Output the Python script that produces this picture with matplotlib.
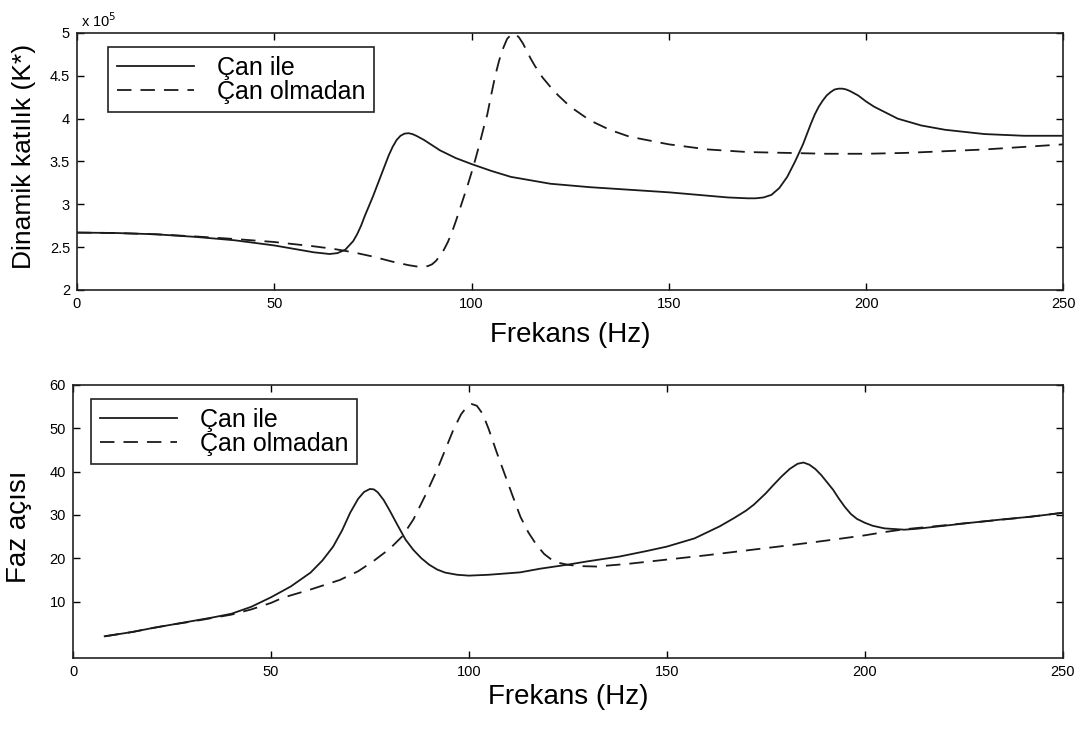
import matplotlib
matplotlib.use("Agg")
import matplotlib.pyplot as plt
from matplotlib.ticker import FormatStrFormatter

plt.rcParams['font.family'] = ['Liberation Sans', 'DejaVu Sans']

# ---------------- data ----------------
# Top: dynamic stiffness (x 10^5)
k_with_f = [0, 10, 20, 30, 40, 50, 55, 60, 64, 66, 68, 70, 71, 72, 73, 74, 75, 76, 77, 78, 79, 80,
            81, 82, 83, 84, 85, 86, 88, 90, 92, 96, 100, 105, 110, 120, 130, 140, 150, 160, 165,
            170, 172, 174, 176, 178, 180, 182, 184, 185, 186, 187, 188, 189, 190, 191, 192, 193,
            194, 195, 196, 198, 200, 202, 205, 208, 214, 220, 230, 240, 250]
k_with = [2.67, 2.665, 2.65, 2.62, 2.58, 2.52, 2.48, 2.44, 2.42, 2.43, 2.47, 2.57, 2.65, 2.75, 2.87,
          2.98, 3.09, 3.21, 3.33, 3.45, 3.57, 3.67, 3.75, 3.80, 3.825, 3.83, 3.82, 3.80, 3.75, 3.69,
          3.63, 3.54, 3.47, 3.39, 3.32, 3.24, 3.20, 3.17, 3.14, 3.10, 3.08, 3.07, 3.07, 3.08, 3.11,
          3.19, 3.32, 3.50, 3.70, 3.82, 3.94, 4.05, 4.14, 4.21, 4.27, 4.31, 4.34, 4.35, 4.35, 4.34,
          4.32, 4.27, 4.20, 4.14, 4.07, 4.00, 3.92, 3.87, 3.82, 3.80, 3.80]

k_without_f = [0, 10, 20, 30, 40, 50, 60, 65, 70, 75, 80, 84, 86, 88, 89, 90, 91, 92, 93, 94, 95,
               96, 97, 98, 99, 100, 101, 102, 103, 104, 105, 106, 107, 108, 109, 110, 111, 112, 113,
               114, 115, 116, 118, 120, 122, 125, 130, 135, 140, 150, 160, 170, 180, 190, 200, 210,
               220, 230, 240, 250]
k_without = [2.67, 2.665, 2.65, 2.625, 2.595, 2.56, 2.51, 2.48, 2.44, 2.39, 2.33, 2.29, 2.275, 2.27,
             2.28, 2.30, 2.34, 2.40, 2.47, 2.56, 2.67, 2.80, 2.94, 3.08, 3.22, 3.37, 3.53, 3.70, 3.88,
             4.05, 4.28, 4.50, 4.68, 4.82, 4.93, 4.98, 4.99, 4.95, 4.88, 4.79, 4.70, 4.62, 4.48, 4.37,
             4.27, 4.14, 3.98, 3.87, 3.79, 3.70, 3.64, 3.61, 3.60, 3.59, 3.59, 3.60, 3.62, 3.64, 3.67,
             3.70]

# Bottom: phase angle
p_with_f = [8, 15, 20, 25, 30, 35, 40, 45, 50, 55, 60, 63, 65.7, 68, 70, 72, 73.5, 75, 76, 77, 78.5,
            80, 82, 84, 86, 88, 90, 92, 94, 97, 100, 105, 112.9, 118, 124.7, 130, 138, 145, 150,
            157, 163.4, 167, 170, 172, 175, 177, 179, 181, 183, 184.5, 186, 187.5, 189, 190.5, 192,
            193.5, 195, 196.5, 198, 200, 202, 205, 210, 213, 220, 225.7, 235, 242, 250]
p_with = [2.0, 3.0, 3.9, 4.7, 5.5, 6.3, 7.2, 8.8, 11.0, 13.5, 16.7, 19.5, 22.7, 26.5, 30.5, 33.7,
          35.3, 36.0, 35.9, 35.2, 33.4, 31.0, 27.6, 24.3, 21.9, 20.0, 18.5, 17.4, 16.7, 16.2, 16.0,
          16.2, 16.75, 17.6, 18.5, 19.3, 20.4, 21.7, 22.7, 24.6, 27.4, 29.3, 31.0, 32.4, 35.0, 37.0,
          38.9, 40.6, 41.8, 42.1, 41.6, 40.6, 39.2, 37.5, 35.8, 33.7, 31.8, 30.2, 29.1, 28.2, 27.5,
          26.9, 26.6, 26.8, 27.5, 28.1, 29.0, 29.6, 30.5]

p_without_f = [8, 15, 20, 25, 30, 35, 40, 45, 50, 53, 60, 67.4, 72, 75.8, 80, 83.2, 86, 89.3, 92, 94,
               96, 98, 99.5, 100.7, 102, 103.5, 105, 107, 109, 111, 113, 115, 117, 119, 121, 123, 125,
               128, 132.2, 140, 150, 160, 171.8, 180, 187, 192, 200, 204.6, 210, 220, 230, 240, 250]
p_without = [2.0, 3.0, 3.9, 4.7, 5.4, 6.2, 7.0, 8.2, 9.7, 10.9, 12.8, 15.0, 17.0, 19.3, 22.2, 25.1,
             29.0, 35.1, 40.5, 45.0, 49.5, 53.2, 55.0, 55.6, 55.2, 53.3, 49.8, 44.5, 39.5, 34.5, 29.6,
             26.0, 23.2, 21.0, 19.6, 18.9, 18.5, 18.2, 18.1, 18.7, 19.7, 20.7, 22.0, 22.9, 23.7, 24.3,
             25.3, 26.0, 26.7, 27.6, 28.5, 29.4, 30.5]

labels = ['Çan ile', 'Çan olmadan']
x_ticks = [0, 50, 100, 150, 200, 250]
k_ticks = [2, 2.5, 3, 3.5, 4, 4.5, 5]
p_ticks = [10, 20, 30, 40, 50, 60]

# ---------------- plot ----------------
fig = plt.figure(figsize=(10.9, 7.31), dpi=100)
ax1 = fig.add_axes([0.0706, 0.6033, 0.905, 0.3516])
ax2 = fig.add_axes([0.067, 0.0999, 0.908, 0.3735])

col = '#1a1a1a'
lw = 1.3
dash = (0, (8, 5))

ax1.plot(k_with_f, k_with, color=col, lw=lw, label=labels[0])
ax1.plot(k_without_f, k_without, color=col, lw=lw, linestyle=dash, label=labels[1])
ax2.plot(p_with_f, p_with, color=col, lw=lw, label=labels[0])
ax2.plot(p_without_f, p_without, color=col, lw=lw, linestyle=dash, label=labels[1])

for ax in (ax1, ax2):
    ax.set_xlim(0, 250)
    ax.set_xticks(x_ticks)
    ax.tick_params(direction='in', length=5, width=1, top=True, right=True,
                   labelsize=10.5, pad=5)
    for s in ax.spines.values():
        s.set_linewidth(1.2)
        s.set_color('#222222')
    ax.set_xlabel('Frekans (Hz)', fontsize=20)

ax1.set_ylim(2, 5)
ax1.set_yticks(k_ticks)
ax1.yaxis.set_major_formatter(FormatStrFormatter('%g'))
ax1.set_ylabel('Dinamik katılık (K*)', fontsize=19)
ax1.text(0.004, 1.012, r'x 10$^{5}$', transform=ax1.transAxes, fontsize=10.5,
         ha='left', va='bottom')

ax2.set_ylim(-3, 60)
ax2.set_yticks(p_ticks)
ax2.set_ylabel('Faz açısı', fontsize=20)

ax1.xaxis.set_label_coords(0.5, -0.125)
ax2.xaxis.set_label_coords(0.5, -0.095)
ax1.yaxis.set_label_coords(-0.042, 0.52)
ax2.yaxis.set_label_coords(-0.041, 0.48)

leg_kw = dict(loc='upper left', borderaxespad=0, fancybox=False, fontsize=18,
              handlelength=3.1, handletextpad=0.9, labelspacing=0.0, borderpad=0.35,
              framealpha=1)
l1 = ax1.legend(bbox_to_anchor=(0.0314, 0.9455), **leg_kw)
l2 = ax2.legend(bbox_to_anchor=(0.018, 0.9487), **leg_kw)
for lg in (l1, l2):
    fr = lg.get_frame()
    fr.set_edgecolor('#222222')
    fr.set_linewidth(1.2)

fig.savefig('out.png', dpi=100)
